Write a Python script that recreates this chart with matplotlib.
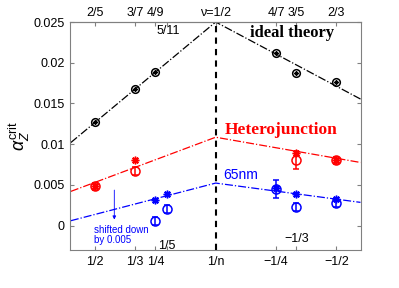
import matplotlib
matplotlib.use("Agg")
import matplotlib.pyplot as plt

plt.rcParams['font.family'] = ['Liberation Sans', 'DejaVu Sans']
plt.rcParams['mathtext.fontset'] = 'custom'
plt.rcParams['mathtext.rm'] = 'Liberation Sans'
plt.rcParams['mathtext.it'] = 'Liberation Sans:italic'

# x axis is 1/n (plotted reversed)
tick_x = [1/2, 1/3, 1/4, 1/5, 0, -1/4, -1/3, -1/2]
bottom_labels = ['1/2', '1/3', '1/4', '', '1/n', '\u22121/4', '', '\u22121/2']
top_labels = ['2/5', '3/7', '4/9', '', '\u03bd=1/2', '4/7', '3/5', '2/3']

# theory lines (left edge, nu=1/2, right edge)
line_x = [0.6, 0, -0.6]
ideal_y = [0.0102, 0.025, 0.01554]
hetero_y = [0.0042, 0.01085, 0.00775]
nm65_y = [0.0006, 0.00522, 0.00285]

# ideal theory points
ideal_px = [1/2, 1/3, 1/4, -1/4, -1/3, -1/2]
ideal_py = [0.01276, 0.01673, 0.01888, 0.02121, 0.01876, 0.01758]

# heterojunction: circles (with error) and asterisks
het_cx = [1/2, 1/3, -1/3, -1/2]
het_cy = [0.0048, 0.00673, 0.00808, 0.0080]
het_err = [0.0004, 0.0005, 0.0011, 0.0004]
het_sx = [1/2, 1/3, -1/3, -1/2]
het_sy = [0.0049, 0.00808, 0.00897, 0.0081]

# 65nm (shifted down by 0.005)
nm_cx = [1/4, 1/5, -1/4, -1/3, -1/2]
nm_cy = [0.00053, 0.00204, 0.00449, 0.00224, 0.00278]
nm_err = [0.0005, 0.0005, 0.0011, 0.0005, 0.0005]
nm_sx = [1/4, 1/5, -1/4, -1/3, -1/2]
nm_sy = [0.00318, 0.00388, 0.0046, 0.00388, 0.00327]

star = (8, 2, 0)  # matlab-like asterisk

fig = plt.figure(figsize=(3.99, 2.88), dpi=100)
ax = fig.add_axes([0.1754, 0.1319, 0.7293, 0.7917])

ax.plot(line_x, ideal_y, 'k-.', lw=0.9)
ax.plot(line_x, hetero_y, '-.', color='red', lw=0.9)
ax.plot(line_x, nm65_y, '-.', color='blue', lw=0.9)
ax.axvline(0, color='k', ls=(0, (3, 2.5)), lw=1.5)

ax.plot(ideal_px, ideal_py, 'o', mfc='none', mec='k', ms=5.5, mew=1.1)
ax.plot(ideal_px, ideal_py, marker=star, ls='none', color='k', ms=3, mew=0.8)

ax.errorbar(het_cx, het_cy, yerr=het_err, fmt='o', mfc='none', mec='red',
            ecolor='red', ms=6.5, mew=1.1, elinewidth=1.1, capsize=2)
ax.plot(het_sx, het_sy, marker=star, ls='none', color='red', ms=5.5, mew=1.1)

ax.errorbar(nm_cx, nm_cy, yerr=nm_err, fmt='o', mfc='none', mec='blue',
            ecolor='blue', ms=6.5, mew=1.1, elinewidth=1.1, capsize=2)
ax.plot(nm_sx, nm_sy, marker=star, ls='none', color='blue', ms=5.5, mew=1.1)

ax.set_xlim(0.6036, -0.602)
ax.set_ylim(-0.003, 0.025)
ax.set_yticks([0, 0.005, 0.01, 0.015, 0.02, 0.025])
ax.set_yticklabels(['0', '0.005', '0.01', '0.015', '0.02', '0.025'])
ax.set_xticks(tick_x)
ax.set_xticklabels(bottom_labels)
for lbl in ax.get_xticklabels():
    if lbl.get_text() == '1/n':
        lbl.set_fontsize(11)
ax.tick_params(direction='in', labelsize=9, length=3, color='gray',
               right=True, pad=4)

top = ax.secondary_xaxis('top')
top.set_xticks(tick_x)
top.set_xticklabels(top_labels)
top.tick_params(direction='in', labelsize=9, length=3, color='gray', pad=2)
top.spines['top'].set_color('gray')

for s in ax.spines.values():
    s.set_color('gray')

ax.set_ylabel(r'$\alpha_Z^{\rm crit}$', fontsize=13, labelpad=1)

ax.text(0.1976, 0.0239, '5/11', fontsize=9, ha='center', va='center')
ax.text(0.505, -0.0012, 'shifted down\nby 0.005', fontsize=7, color='blue',
        ha='left', va='center', linespacing=1.0)
ax.annotate('', xy=(0.42, 0.0004), xytext=(0.42, 0.0047),
            arrowprops=dict(arrowstyle='-|>', color='blue', lw=0.6,
                            mutation_scale=5))
ax.text(0.2017, -0.0025, '1/5', fontsize=9, ha='center', va='center')
ax.text(-0.337, -0.0017, '\u22121/3', fontsize=9, ha='center', va='center')
ax.text(-0.315, 0.02365, 'ideal theory', fontsize=12, fontweight='bold',
        family='Liberation Serif', ha='center', va='center')
ax.text(-0.273, 0.01175, 'Heterojunction', fontsize=12.5, fontweight='bold',
        family='Liberation Serif', color='red', ha='center', va='center')
ax.text(-0.1036, 0.00624, '65nm', fontsize=10, color='blue',
        ha='center', va='center')

fig.savefig('out.png', dpi=100)
